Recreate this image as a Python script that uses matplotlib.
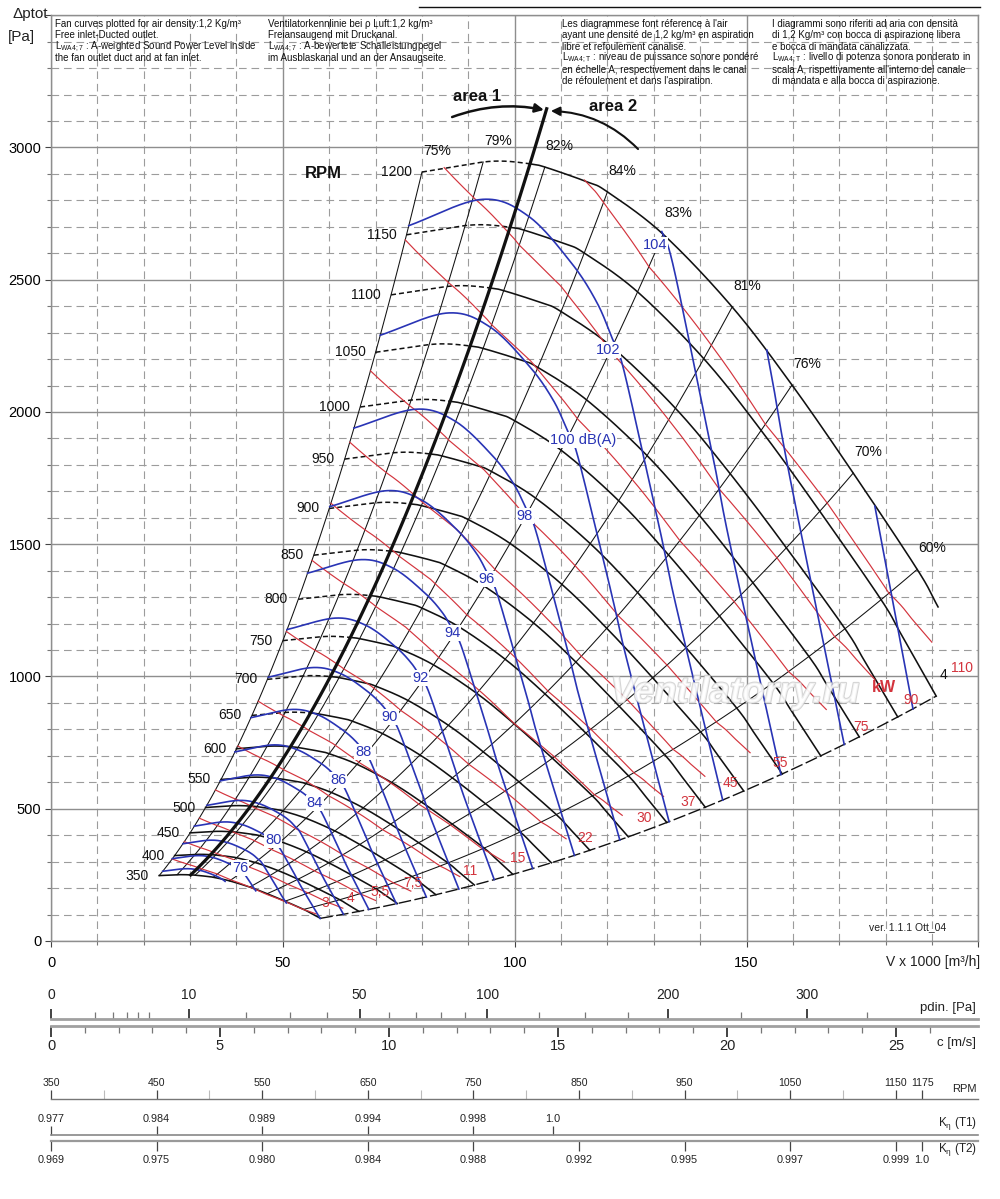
import numpy as np
import matplotlib
matplotlib.use("Agg")
import matplotlib.pyplot as plt
import matplotlib.transforms as mtransforms
import matplotlib.patheffects as pe
from matplotlib.lines import Line2D
from matplotlib.ticker import MultipleLocator, FuncFormatter

plt.rcParams['font.family'] = ['Liberation Sans', 'DejaVu Sans']
plt.rcParams['mathtext.default'] = 'regular'
plt.rcParams['lines.scale_dashes'] = False

# ---------------- data ----------------
rpm_list = [350, 400, 450, 500, 550, 600, 650, 700, 750, 800, 850, 900,
            950, 1000, 1050, 1100, 1150, 1200]
rpm_ref = 1200
rpm_dashed_from = 650
# fan curve at 1200 rpm (V x 1000 m3/h, total pressure Pa)
curve_V = [80.0, 86.5, 93.2, 98.0, 103.3, 106.5, 115.6, 120.0, 132.0,
           146.9, 159.8, 173.0, 186.8, 191.3, 199.2]
curve_p = [2907, 2926, 2945, 2948, 2938, 2926, 2870, 2832, 2672,
           2397, 2102, 1769, 1405, 1263, 1008]
curve_end_V_1200 = 191.3      # 1200 rpm curve stops here
area_split_V = 103.3          # area 1 / area 2 border on the 1200 rpm curve

# efficiency lines: % and where they meet the 1200 rpm curve
eff_pct = [75, 79, 82, 84, 83, 81, 76, 70, 60]
eff_V_1200 = [80.0, 93.2, 106.5, 120.0, 132.0, 146.9, 159.8, 173.0, 186.8]
edge_eff = 49                 # efficiency at the closing end of the curves

# shaft power lines (kW)
kw_values = [3, 4, 5.5, 7.5, 11, 15, 22, 30, 37, 45, 55, 75, 90, 110]
kw_labels = ['3', '4', '5,5', '7,5', '11', '15', '22', '30', '37', '45',
             '55', '75', '90', '110']

# sound power contours, reference contour 100 dB(A)
sound_ref = 100
sound_V = [71.0, 85.4, 94.7, 103.3, 108.3, 111.3, 113.4, 117.7, 121.2, 124.2, 133.3]
sound_p = [2290, 2374, 2321, 2170, 2045, 1932, 1845, 1543, 1289, 1062, 451]
sound_step = 1.0867            # flow ratio between contours 2 dB apart
sound_levels = [74, 76, 78, 80, 82, 84, 86, 88, 90, 92, 94, 96, 98, 100,
                102, 104, 106, 108]
sound_labels = {76: '76', 80: '80', 84: '84', 86: '86', 88: '88', 90: '90',
                92: '92', 94: '94', 96: '96', 98: '98', 100: '100 dB(A)',
                102: '102', 104: '104'}

# bottom scales
pdin_major = [0, 10, 50, 100, 200, 300]
pdin_minor = [1, 2, 3, 4, 5, 20, 30, 40, 60, 70, 80, 90, 125, 150, 175, 250, 350]
c_major = [0, 5, 10, 15, 20, 25]
c_minor = [1, 2, 3, 4, 6, 7, 8, 9, 11, 12, 13, 14, 16, 17, 18, 19, 21, 22, 23, 24, 26]
rpm_scale_major = [350, 450, 550, 650, 750, 850, 950, 1050, 1150, 1175]
rpm_scale_minor = [400, 500, 600, 700, 800, 900, 1000, 1100]
k_t1_rpm = [350, 450, 550, 650, 750, 825]
k_t1_lab = ['0.977', '0.984', '0.989', '0.994', '0.998', '1.0']
k_t2_rpm = [350, 450, 550, 650, 750, 850, 950, 1050, 1150, 1175]
k_t2_lab = ['0.969', '0.975', '0.980', '0.984', '0.988', '0.992', '0.995',
            '0.997', '0.999', '1.0']

# ---------------- layout (label anchor points, data units) ----------------
blue_label_xy = {76: (40.8, 276), 80: (47.9, 382), 84: (56.9, 522), 86: (61.9, 609),
                 88: (67.3, 715), 90: (73.1, 847), 92: (79.6, 994), 94: (86.5, 1165),
                 96: (94.0, 1369), 98: (102.2, 1607), 100: (114.7, 1894),
                 102: (120.1, 2234), 104: (130.3, 2631)}
red_label_xy = [(59.1, 144), (64.5, 163), (71.0, 185), (78.1, 219), (90.4, 265),
                (100.7, 314), (115.2, 389), (127.9, 465), (137.4, 526), (146.6, 597),
                (157.2, 673), (174.7, 809), (185.5, 911), (196.5, 1032)]

BLACK = '#111111'
RED = '#d3343d'
BLUE = '#2934b5'
GRID = '#8e8e8e'

W, H = 1000, 1199
def fx(px): return px / W
def fy(py): return 1 - py / H
PT = 72 / 100.0


def cr_smooth(x, y, n=40):
    P = np.column_stack([x, y]).astype(float)
    P = np.vstack([2 * P[0] - P[1], P, 2 * P[-1] - P[-2]])
    t = np.linspace(0, 1, n, endpoint=False)[:, None]
    segs = []
    for i in range(1, len(P) - 2):
        p0, p1, p2, p3 = P[i - 1], P[i], P[i + 1], P[i + 2]
        segs.append(0.5 * (2 * p1 + (p2 - p0) * t + (2 * p0 - 5 * p1 + 4 * p2 - p3) * t ** 2
                           + (3 * p1 - p0 - 3 * p2 + p3) * t ** 3))
    segs.append(P[-2][None, :])
    out = np.vstack(segs)
    return out[:, 0], out[:, 1]


fig = plt.figure(figsize=(10, 11.99), dpi=100)
ax = fig.add_axes([fx(51), fy(941), fx(978.4) - fx(51), fy(15.2) - fy(941)])
ax.set_xlim(0, 200)
ax.set_ylim(0, 3500)
ax.set_axisbelow(True)
ax.xaxis.set_major_locator(MultipleLocator(50))
ax.xaxis.set_minor_locator(MultipleLocator(10))
ax.yaxis.set_major_locator(MultipleLocator(500))
ax.yaxis.set_minor_locator(MultipleLocator(100))
ax.grid(which='major', color=GRID, lw=1.0, ls='-')
ax.grid(which='minor', color='#9c9c9c', lw=0.8, ls=(0, (5.5, 3.5)))
ax.xaxis.set_major_formatter(FuncFormatter(lambda v, _: '' if v >= 199 else f'{v:.0f}'))
ax.yaxis.set_major_formatter(FuncFormatter(lambda v, _: '' if v > 3100 else f'{v:.0f}'))
ax.tick_params(axis='both', which='major', labelsize=10.5, color='#444', length=4)
ax.tick_params(axis='x', which='major', pad=7)
ax.tick_params(axis='y', which='major', pad=3)
ax.tick_params(axis='both', which='minor', length=3, color='#777', width=0.8)
for s in ax.spines.values():
    s.set_color(GRID)
    s.set_linewidth(1.0)

# ---------------- base geometry ----------------
bV, bp = cr_smooth(curve_V, curve_p, 60)
bV = np.maximum.accumulate(bV)
k75 = curve_p[0] / curve_V[0] ** 2
kb = curve_p[-1] / curve_V[-1] ** 2
r_min = rpm_list[0] / rpm_ref


def p1200(V):
    return np.interp(V, bV, bp)


def upper(V):
    return np.where(V < curve_V[0], k75 * V ** 2,
                    np.where(V <= curve_V[-1], p1200(V), -1.0))


def lower(V):
    p350 = np.interp(V, r_min * bV, r_min ** 2 * bp)
    return np.where(V < r_min * curve_V[0], np.inf,
                    np.where(V <= r_min * curve_V[-1], p350, kb * V ** 2))


def inside(V, p):
    return (p <= upper(V) + 6) & (p >= lower(V) - 6)


# ---------------- rpm curves ----------------
for n in rpm_list:
    r = n / rpm_ref
    vlim = curve_end_V_1200 if n == rpm_ref else curve_V[-1]
    if n >= rpm_dashed_from:
        md = bV <= area_split_V
        ax.plot(r * bV[md], r ** 2 * bp[md], color=BLACK, lw=1.1,
                dashes=(3.6, 2.2), zorder=3)
        ms = (bV >= area_split_V) & (bV <= vlim)
    else:
        ms = bV <= vlim
    ax.plot(r * bV[ms], r ** 2 * bp[ms], color=BLACK, lw=1.15, zorder=3)
    ax.text(r * curve_V[0] - 2.2, r ** 2 * curve_p[0], str(n), ha='right',
            va='center', fontsize=10, color=BLACK, zorder=6)

ax.text(58.7, 2903, 'RPM', ha='center', va='center', fontsize=12,
        fontweight='bold', color=BLACK)

# closing boundary of the curves
rr = np.linspace(r_min, 1150 / rpm_ref, 50)
ax.plot(rr * curve_V[-1], rr ** 2 * curve_p[-1], color=BLACK, lw=1.0,
        dashes=(9, 2.5), zorder=3)

# ---------------- efficiency lines ----------------
for e, vt in zip(eff_pct, eff_V_1200):
    k = p1200(vt) / vt ** 2
    V = np.linspace(r_min * vt, vt, 80)
    ax.plot(V, k * V ** 2, color=BLACK, lw=0.75, zorder=3)
    ax.text(vt + 3.2, p1200(vt) + 80, f'{e}%', ha='center', va='center',
            fontsize=10, color=BLACK, zorder=6)

# ---------------- power lines ----------------
Pb_V = np.array(eff_V_1200 + [curve_V[-1]])
Pb_e = np.array(eff_pct + [edge_eff]) / 100.0
Pb = Pb_V / 3.6 * p1200(Pb_V) / Pb_e / 1000.0
Pb_dense = np.interp(bV, Pb_V, Pb)
red_end_Vb = 194.0
red_max_V = 193.2
for P, lab, (lx, ly) in zip(kw_values, kw_labels, red_label_xy):
    r = (P / Pb_dense) ** (1 / 3)
    V = r * bV
    p = r ** 2 * bp
    m = (r <= 1.0005) & (bV >= curve_V[0]) & (bV <= red_end_Vb) & (V <= red_max_V)
    ax.plot(V[m], p[m], color=RED, lw=0.85, zorder=4)
    ax.text(lx, ly, lab, ha='center', va='center', fontsize=10, color=RED, zorder=8)
ax.text(179.6, 960, 'kW', ha='center', va='center', fontsize=11.5,
        fontweight='bold', color=RED, zorder=8)

# ---------------- sound contours ----------------
sV, sp = cr_smooth(sound_V, sound_p, 50)
for L in sound_levels:
    s = sound_step ** ((L - sound_ref) / 2.0)
    V = sV * s
    p = sp * s ** 2
    m = inside(V, p)
    pp = np.where(m, p, np.nan)
    ax.plot(V, pp, color=BLUE, lw=1.2, zorder=5)
    if L in sound_labels:
        lx, ly = blue_label_xy[L]
        ax.text(lx, ly, sound_labels[L], ha='center', va='center', fontsize=10.5,
                color=BLUE, zorder=8,
                bbox=dict(fc='white', ec='none', pad=0.6))

# ---------------- area line and arrows ----------------
ka = p1200(area_split_V) / area_split_V ** 2
V = np.linspace(r_min * area_split_V, 106.9, 100)
ax.plot(V, ka * V ** 2, color=BLACK, lw=2.3, zorder=6)
ax.annotate('', xy=(106.3, 3142), xytext=(86.5, 3115),
            arrowprops=dict(arrowstyle='-|>', connectionstyle='arc3,rad=-0.14',
                            color=BLACK, lw=1.8, mutation_scale=13,
                            shrinkA=0, shrinkB=0), zorder=7)
ax.annotate('', xy=(107.8, 3138), xytext=(126.6, 2994),
            arrowprops=dict(arrowstyle='-|>', connectionstyle='arc3,rad=0.2',
                            color=BLACK, lw=1.5, mutation_scale=13,
                            shrinkA=0, shrinkB=0), zorder=7)
ax.text(91.9, 3191, 'area 1', ha='center', va='center', fontsize=12,
        fontweight='bold', color=BLACK)
ax.text(121.2, 3153, 'area 2', ha='center', va='center', fontsize=12,
        fontweight='bold', color=BLACK)

# misc texts
ax.text(192.4, 1006, '4', ha='center', va='center', fontsize=10, color=BLACK)
ax.text(184.8, 53, 'ver. 1.1.1 Ott_04', ha='center', va='center', fontsize=7.5,
        color='#222')
ax.text(147.5, 938, 'Ventilatorry.ru', ha='center', va='center', fontsize=26.5,
        fontstyle='italic', fontweight='bold', color='white', alpha=0.7, zorder=6.5,
        path_effects=[pe.withStroke(linewidth=1.5, foreground='#c4c4c4')])

# ---------------- header texts ----------------
blocks = [
    (55, ['Fan curves plotted for air density:1,2 Kg/m³',
          'Free inlet-Ducted outlet.',
          'L$_{WA4;7}$ : A-weighted Sound Power Level inside',
          'the fan outlet duct and at fan inlet.']),
    (268, ['Ventilatorkennlinie bei ρ Luft:1,2 kg/m³',
           'Freiansaugend mit Druckanal.',
           'L$_{WA4;7}$ : A-bewertete Schalleistungpegel',
           'im Ausblaskanal und an der Ansaugseite.']),
    (562, ['Les diagrammese font réference à l\'air',
           'ayant une densité de 1,2 kg/m³ en aspiration',
           'libre et refoulement canalisé.',
           'L$_{WA4;T}$ : niveau de puissance sonore pondéré',
           'en échelle A, respectivement dans le canal',
           'de réfoulement et dans l\'aspiration.']),
    (772, ['I diagrammi sono riferiti ad aria con densità',
           'di 1,2 Kg/m³ con bocca di aspirazione libera',
           'e bocca di mandata canalizzata.',
           'L$_{WA4;T}$ : livello di potenza sonora ponderato in',
           'scala A, rispettivamente all\'interno del canale',
           'di mandata e alla bocca di aspirazione.']),
]
for x0, lines in blocks:
    for i, t in enumerate(lines):
        fig.text(fx(x0), fy(24 + 11.4 * i), t, ha='left', va='center',
                 fontsize=7.0, color='#111')

fig.add_artist(Line2D([fx(419), fx(980)], [fy(7), fy(7)], color=BLACK, lw=1.0))
fig.text(fx(30), fy(14), 'Δptot', ha='center', va='center', fontsize=11, color='#222')
fig.text(fx(21), fy(37), '[Pa]', ha='center', va='center', fontsize=11, color='#222')
fig.text(fx(980), fy(962), 'V x 1000 [m³/h]', ha='right', va='center',
         fontsize=10, color='#222')

# ---------------- bottom scales ----------------
NARROW = ['Liberation Sans Narrow', 'Liberation Sans', 'DejaVu Sans']


def scale_axes(base_px, up=True, h_px=14):
    if up:
        rect = [fx(51), fy(base_px), fx(978) - fx(51), h_px / H]
    else:
        rect = [fx(51), fy(base_px + h_px), fx(978) - fx(51), h_px / H]
    a = fig.add_axes(rect, facecolor='none')
    for s in a.spines.values():
        s.set_visible(False)
    a.set_yticks([])
    sp_ = 'bottom' if up else 'top'
    a.spines[sp_].set_visible(True)
    a.xaxis.set_ticks_position(sp_)
    a.tick_params(axis='x', which='both', direction='in', labelbottom=False,
                  labeltop=False)
    return a, sp_


def blend(a):
    return mtransforms.blended_transform_factory(a.transData, fig.transFigure)


c_max = (978 - 51) / 33.8

# dynamic pressure
apd, spn = scale_axes(1019, up=True)
apd.set_xscale('function', functions=(lambda x: np.sqrt(np.maximum(x, 0) / 0.6),
                                      lambda c: 0.6 * np.asarray(c) ** 2))
apd.set_xlim(0, 0.6 * c_max ** 2)
apd.set_xticks(pdin_major)
apd.set_xticks(pdin_minor, minor=True)
apd.tick_params(which='major', length=10 * PT, width=1.2, color='#222')
apd.tick_params(which='minor', length=7 * PT, width=0.9, color='#777')
apd.spines[spn].set(color='#a0a0a0', lw=2.0)
for v in pdin_major:
    apd.text(v, fy(995), str(v), transform=blend(apd), ha='center', va='center',
             fontsize=10, color='#222')

# velocity
ac, spn = scale_axes(1025.7, up=False)
ac.set_xlim(0, c_max)
ac.set_xticks(c_major)
ac.set_xticks(c_minor, minor=True)
ac.tick_params(which='major', length=11 * PT, width=1.2, color='#222')
ac.tick_params(which='minor', length=7 * PT, width=0.9, color='#777')
ac.spines[spn].set(color='#a0a0a0', lw=2.0)
for v in c_major:
    ac.text(v, fy(1046), str(v), transform=blend(ac), ha='center', va='center',
            fontsize=10.5, color='#222')

rpm_xmax = 350 + (978 - 51) / 1.056

# rpm
ar, spn = scale_axes(1099, up=True)
ar.set_xlim(350, rpm_xmax)
ar.set_xticks(rpm_scale_major)
ar.set_xticks(rpm_scale_minor, minor=True)
ar.tick_params(which='major', length=9 * PT, width=0.9, color='#444')
ar.tick_params(which='minor', length=9 * PT, width=0.8, color='#bbbbbb')
ar.spines[spn].set(color='#777', lw=1.0)
for v in rpm_scale_major:
    ar.text(v, fy(1083), str(v), transform=blend(ar), ha='center', va='center',
            fontsize=7.6, family=NARROW, color='#222')

# K eta T1
a1, spn = scale_axes(1135, up=True)
a1.set_xlim(350, rpm_xmax)
a1.set_xticks(k_t1_rpm)
a1.tick_params(which='major', length=9 * PT, width=0.9, color='#444')
a1.spines[spn].set(color='#888', lw=1.2)
for v, t in zip(k_t1_rpm, k_t1_lab):
    a1.text(v, fy(1119), t, transform=blend(a1), ha='center', va='center',
            fontsize=7.8, family=NARROW, color='#222')

# K eta T2
a2, spn = scale_axes(1141, up=False)
a2.set_xlim(350, rpm_xmax)
a2.set_xticks(k_t2_rpm)
a2.tick_params(which='major', length=10 * PT, width=0.9, color='#444')
a2.spines[spn].set(color='#999', lw=1.6)
for v, t in zip(k_t2_rpm, k_t2_lab):
    a2.text(v, fy(1160), t, transform=blend(a2), ha='center', va='center',
            fontsize=7.8, family=NARROW, color='#222')

fig.text(fx(976), fy(1008), 'pdin. [Pa]', ha='right', va='center', fontsize=9.5,
         family=NARROW, color='#222')
fig.text(fx(976), fy(1043), 'c [m/s]', ha='right', va='center', fontsize=9.5,
         family=NARROW, color='#222')
fig.text(fx(977), fy(1089), 'RPM', ha='right', va='center', fontsize=8,
         family=NARROW, color='#222')
fig.text(fx(977), fy(1124), r'K$_{\eta}$ (T1)', ha='right', va='center', fontsize=8.5,
         family=NARROW, color='#222')
fig.text(fx(977), fy(1150), r'K$_{\eta}$ (T2)', ha='right', va='center', fontsize=8.5,
         family=NARROW, color='#222')

fig.savefig('out.png', dpi=100, facecolor='white')
